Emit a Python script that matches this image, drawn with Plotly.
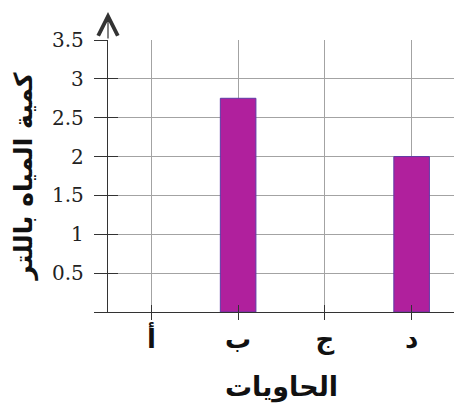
import plotly.graph_objects as go

categories = ["أ", "ب", "ج", "د"]
values = [0, 2.75, 0, 2.0]
y_ticks = [0, 0.5, 1, 1.5, 2, 2.5, 3, 3.5]
y_tick_labels = ["", "0.5", "1", "1.5", "2", "2.5", "3", "3.5"]
x_title = "الحاويات"
y_title = "كمية المياه باللتر"

pos = list(range(len(categories)))
axis_col = "#333333"
grid_col = "#a3a3a3"

fig = go.Figure()
fig.add_trace(go.Bar(
    x=pos, y=values, width=0.41,
    marker=dict(color="#b0209d",
                line=dict(color="#5e3aa6", width=[1 if v > 0 else 0 for v in values])),
    showlegend=False,
))
fig.add_trace(go.Scatter(x=[pos[0]], y=[0], xaxis="x2", yaxis="y2",
                         mode="markers", marker=dict(opacity=0), showlegend=False,
                         hoverinfo="skip"))

serif = "DejaVu Serif"
arab = "DejaVu Sans"

fig.update_layout(
    width=454, height=409,
    margin=dict(l=100, r=7, t=32, b=105, autoexpand=False),
    paper_bgcolor="white", plot_bgcolor="white",
    xaxis=dict(
        range=[-0.5, 3.5], tickvals=pos,
        ticktext=[f"<b>{c}</b>" for c in categories],
        ticks="outside", ticklen=7, tickwidth=1, tickcolor=axis_col,
        showgrid=True, gridcolor=grid_col, gridwidth=1,
        showline=True, linecolor=axis_col, linewidth=1.3,
        zeroline=False,
        tickfont=dict(family=arab, size=26, color="#111"),
        ticklabelstandoff=-3,
        minor=dict(tickvals=[3.5], ticks="outside", ticklen=7, tickcolor=axis_col, showgrid=False),
        title=dict(text=f"<b>{x_title}</b>", font=dict(family=arab, size=27, color="#111"), standoff=22),
        automargin=False,
    ),
    yaxis=dict(
        range=[0, 3.5], tickvals=y_ticks, ticktext=y_tick_labels,
        ticks="outside", ticklen=13, tickwidth=1, tickcolor=axis_col,
        showgrid=True, gridcolor=grid_col, gridwidth=1,
        showline=True, linecolor=axis_col, linewidth=1.3,
        zeroline=False,
        tickfont=dict(family=serif, size=20, color="#222"),
        ticklabelstandoff=6,
        title=dict(text=f"<b>{y_title}</b>", font=dict(family=arab, size=25, color="#111"), standoff=12),
        automargin=False,
    ),
    xaxis2=dict(
        overlaying="x", matches="x", range=[-0.5, 3.5], tickvals=pos,
        ticks="inside", ticklen=7, tickcolor=axis_col, showticklabels=False,
        showgrid=False, zeroline=False, showline=False,
        minor=dict(tickvals=[3.5], ticks="inside", ticklen=7, tickcolor=axis_col, showgrid=False),
    ),
    yaxis2=dict(
        overlaying="y", matches="y", range=[0, 3.5], tickvals=y_ticks,
        ticks="inside", ticklen=10, tickcolor=axis_col, showticklabels=False,
        showgrid=False, zeroline=False, showline=False,
    ),
)

fig.add_annotation(
    x=-0.5, y=3.86, ax=-0.5, ay=3.5, xref="x", yref="y", axref="x", ayref="y",
    showarrow=True, arrowhead=5, arrowsize=3.2, arrowwidth=1.2, arrowcolor=axis_col,
    text="",
)

fig.write_html("out.html")
